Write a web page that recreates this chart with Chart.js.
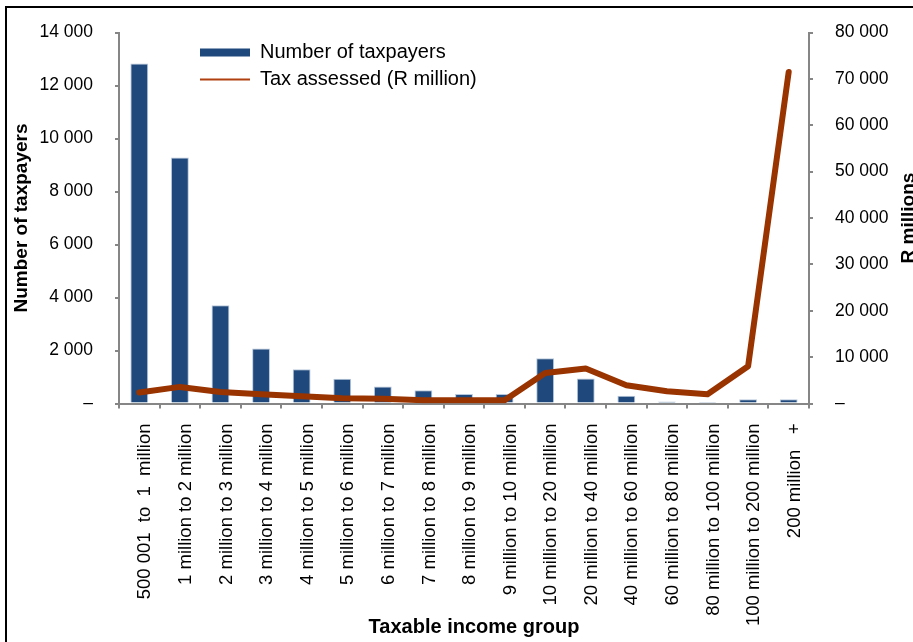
<!DOCTYPE html>
<html><head><meta charset="utf-8">
<script src="https://cdn.jsdelivr.net/npm/chart.js@4.4.1/dist/chart.umd.min.js"></script>
<style>
html,body{margin:0;padding:0;background:#fff;overflow:hidden;width:913px;height:642px;}
#frame{position:absolute;left:5px;top:6px;border:2px solid #000;width:930px;height:650px;}
#c{position:absolute;left:7px;top:0px;display:block;}
</style></head><body>
<div id="frame"></div>
<canvas id="c" width="930" height="650" style="width:930px;height:650px"></canvas>
<script>
const categories = [
  "500 001  to  1  million",
  "1 million to 2 million",
  "2 million to 3 million",
  "3 million to 4 million",
  "4 million to 5 million",
  "5 million to 6 million",
  "6 million to 7 million",
  "7 million to 8 million",
  "8 million to 9 million",
  "9 million to 10 million",
  "10 million to 20 million",
  "20 million to 40 million",
  "40 million to 60 million",
  "60 million to 80 million",
  "80 million to 100 million",
  "100 million to 200 million",
  "200 million   +"
];
const numberOfTaxpayers = [12830, 9280, 3710, 2080, 1290, 930, 640, 500, 360, 360, 1710, 940, 290, 75, 10, 160, 160];
const taxAssessed = [2370, 3580, 2500, 2000, 1550, 1120, 1000, 710, 710, 710, 6600, 7540, 3940, 2650, 2000, 8040, 71500];
const seriesNames = ["Number of taxpayers", "Tax assessed (R million)"];
const axisTitles = { left: "Number of taxpayers", right: "R millions", bottom: "Taxable income group" };
const leftTickRange = [0, 14000, 2000];
const rightTickRange = [0, 80000, 10000];

const FONT = "'Liberation Sans', Arial, sans-serif";
const AXIS = '#868686';
const BAR = '#1F497D';
const LINE = '#993300';

function fmt(v){ return v === 0 ? '\u2013' : String(v).replace(/\B(?=(\d{3})+(?!\d))/g, ' '); }

const rightTitle = {
  id: 'rightTitle',
  afterDraw(chart){
    const ctx = chart.ctx, ca = chart.chartArea;
    ctx.save();
    ctx.font = 'bold 19px ' + FONT;
    ctx.fillStyle = '#000';
    ctx.textAlign = 'center';
    ctx.textBaseline = 'alphabetic';
    ctx.translate(907, (ca.top + ca.bottom) / 2);
    ctx.rotate(-Math.PI / 2);
    ctx.fillText(axisTitles.right, 0, 0);
    ctx.restore();
  }
};
const layoutTweaks = {
  id: 'layoutTweaks',
  afterLayout(chart){
    const lg = chart.legend;
    const ca = chart.chartArea;
    if (lg) {
      lg.left = 186; lg.top = 35.5; lg.right = ca.right; lg.bottom = ca.bottom;
      lg.width = lg.right - lg.left; lg.height = lg.bottom - lg.top;
    }
    const xs = chart.scales.x;
    if (xs && !xs._shifted) {
      const orig = xs.drawTitle;
      xs.drawTitle = function(){ const c = this.ctx; c.save(); c.translate(10, 0); orig.call(this); c.restore(); };
      xs._shifted = true;
    }
  }
};

new Chart(document.getElementById('c'), {
  data: {
    labels: categories,
    datasets: [
      { type: 'bar', label: seriesNames[0], data: numberOfTaxpayers, yAxisID: 'y',
        backgroundColor: BAR, borderColor: '#B8C8DC', borderWidth: 1,
        barPercentage: 0.44, categoryPercentage: 1, order: 2 },
      { type: 'line', label: seriesNames[1], data: taxAssessed, yAxisID: 'y1',
        borderColor: LINE, backgroundColor: LINE, borderWidth: 6, pointRadius: 0,
        tension: 0, borderCapStyle: 'round', borderJoinStyle: 'round', order: 1 }
    ]
  },
  options: {
    responsive: false, animation: false, devicePixelRatio: 1,
    layout: { padding: { left: 0, right: 0, top: 0, bottom: 7 } },
    plugins: {
      tooltip: { enabled: false },
      legend: {
        position: 'chartArea', align: 'start',
        labels: {
          font: { family: FONT, size: 20 }, color: '#000',
          usePointStyle: true, pointStyleWidth: 50, boxHeight: 8, padding: 7,
          generateLabels(chart){
            const items = Chart.defaults.plugins.legend.labels.generateLabels(chart);
            items.sort((a, b) => a.datasetIndex - b.datasetIndex);
            items[0].pointStyle = 'rect'; items[0].lineWidth = 0; items[0].fillStyle = BAR;
            items[1].pointStyle = 'line'; items[1].lineWidth = 2; items[1].strokeStyle = '#B0400F';
            return items;
          }
        }
      }
    },
    scales: {
      x: {
        type: 'category', offset: true,
        grid: { offset: true, drawOnChartArea: false, drawTicks: true, tickLength: 5, color: AXIS, lineWidth: 2 },
        border: { display: true, color: AXIS, width: 2 },
        ticks: { autoSkip: false, maxRotation: 90, minRotation: 90, padding: 15, labelOffset: 6, color: '#000',
                 font: { family: FONT, size: 18.5 } },
        title: { display: true, text: axisTitles.bottom, color: '#000',
                 font: { family: FONT, size: 20, weight: 'bold' }, padding: { top: 0, bottom: 4 } },
        afterFit(s){ s.height = 239.5; }
      },
      y: {
        position: 'left', min: leftTickRange[0], max: leftTickRange[1],
        grid: { drawOnChartArea: false, drawTicks: true, tickLength: 4, color: AXIS, lineWidth: 2 },
        border: { display: true, color: AXIS, width: 2 },
        ticks: { stepSize: leftTickRange[2], padding: 22, color: '#000', font: { family: FONT, size: 17.5 }, callback: (v) => fmt(v) },
        title: { display: true, text: axisTitles.left, color: '#000',
                 font: { family: FONT, size: 19, weight: 'bold' }, padding: { top: 3, bottom: 0 } },
        afterFit(s){ s.width = 112; }
      },
      y1: {
        position: 'right', min: rightTickRange[0], max: rightTickRange[1],
        grid: { drawOnChartArea: false, drawTicks: true, tickLength: 4, color: AXIS, lineWidth: 2 },
        border: { display: true, color: AXIS, width: 2 },
        ticks: { stepSize: rightTickRange[2], padding: 22, color: '#000', font: { family: FONT, size: 17.5 }, callback: (v) => fmt(v) },
        afterFit(s){ s.width = 128; }
      }
    }
  },
  plugins: [layoutTweaks, rightTitle]
});
</script>
</body></html>
